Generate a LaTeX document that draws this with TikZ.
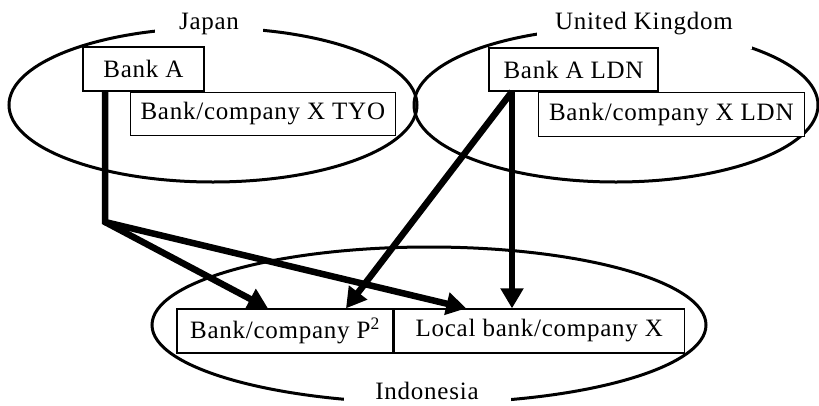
\documentclass[tikz,border=0pt]{standalone}
\usepackage{fontspec}
\setmainfont[LetterSpace=3]{Liberation Serif}
\usetikzlibrary{arrows.meta}
\usetikzlibrary{positioning}

\begin{document}
\begin{tikzpicture}[x=1pt,y=-1pt,font=\fontsize{25}{30}\selectfont,
    region/.style={line width=3pt},
    regionname/.style={fill=white,inner sep=0pt,minimum height=34pt},
    inst/.style={draw,fill=white,line width=1.3pt,inner sep=0pt,minimum height=44pt},
    flow/.style={line width=6.5pt,-{Triangle[length=20pt,width=22pt]}}]
\useasboundingbox (0,0) rectangle (819,405);
% The three countries are drawn first
\draw[region] (213,105) ellipse [x radius=204, y radius=77]; % Japan
\draw[region] (616,105) ellipse [x radius=202, y radius=77]; % UK
\draw[region] (429,325) ellipse [x radius=277, y radius=78]; % Indonesia
%% Country names are typeset over the lines.
\node[regionname,minimum width=108pt] (jp) at (209,24) {Japan};
\node[regionname,minimum width=215pt,minimum height=50pt] (uk) at (644,24) {United Kingdom};
\node[regionname,minimum width=167pt,minimum height=30pt] (id) at (427,391) {Indonesia};
%% Banks and companies
\node[inst,minimum width=121pt] (bankA) at (143.5,69) {Bank A};
\node[inst,minimum width=265pt,minimum height=43pt,below right = 0pt and -75pt of bankA] (tyo) {Bank/company X TYO};
\node[inst,minimum width=169pt,minimum height=43pt] (bankAldn) at (573.5,69.5) {Bank A LDN};
\node[inst,minimum width=266pt,below right = 0pt and -121pt of bankAldn] (xldn) {Bank/company X LDN};
\node[inst,minimum width=216pt] (P) at (285,331) {Bank/company P\textsuperscript{2}};
\node[inst,minimum width=290pt,right = 0pt of P] (localX) {Local bank/company X};
% flows
\coordinate (hub) at (105,222);
\coordinate (ldnfoot) at ([xshift=-61.5pt]bankAldn.south);
\draw[flow] (bankA.south -| hub) -- (hub) -- ([xshift=-17pt]P.north); % A to P
\draw[flow] (hub) -- ([xshift=-73pt]localX.north); % A to X
\draw[flow] (ldnfoot) -- ([xshift=61pt]P.north); % LDN to P
\draw[flow] (ldnfoot) -- (ldnfoot |- localX.north); % LDN to X
\end{tikzpicture}
\end{document}
